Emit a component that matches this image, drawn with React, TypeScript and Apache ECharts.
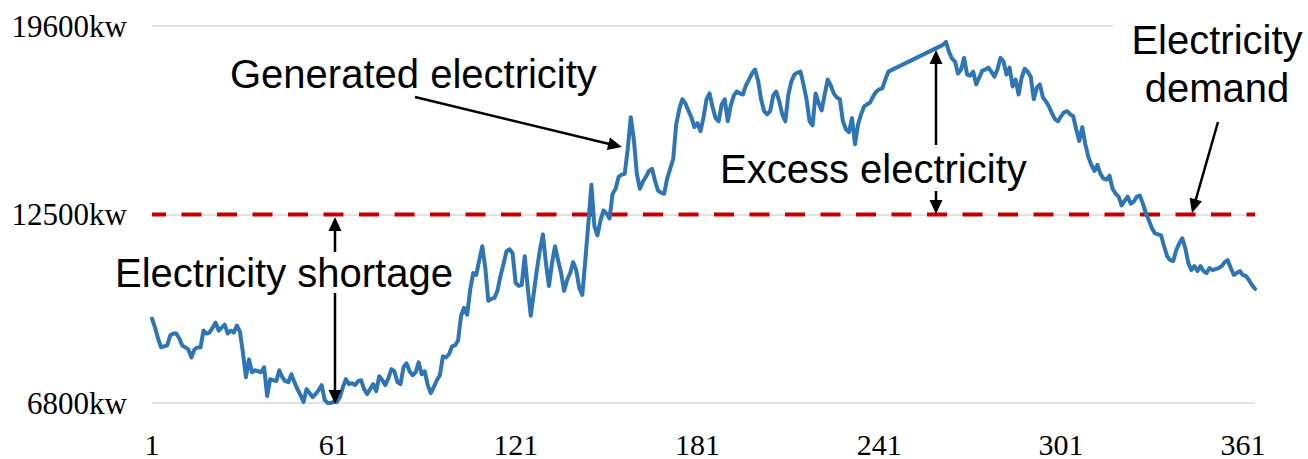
import React, { useEffect, useRef } from "react";
import * as echarts from "echarts";

// Day index (category axis)
const DAYS: string[] = Array.from({ length: 365 }, (_, i) => String(i + 1));

// Y tick values (equally spaced on the chart) and their labels
const Y_TICK_VALUES = [6800, 12500, 19600];
const Y_TICK_LABELS = ["6800kw", "12500kw", "19600kw"];

// Electricity demand (kw)
const DEMAND_KW = 12500;

// Generated electricity per day (kw); null = missing days (connected by a straight line)
const GENERATED_KW: (number | null)[] = [
  9350, 9080, 8750, 8480, 8510, 8540, 8840, 8900, 8900, 8750,
  8540, 8480, 8420, 8180, 8420, 8480, 8480, 8990, 8900, 8930,
  9080, 9230, 8990, 9080, 9170, 8900, 8990, 8930, 9140, 8960,
  8330, 7580, 8120, 7730, 7790, 7760, 7730, 7880, 7010, 7520,
  7490, 7460, 7790, 7580, 7460, 7430, 7670, 7430, 7220, 7040,
  6830, 7220, 7100, 6980, 7070, 7190, 7340, 6890, 6800, 6800,
  6830, 6830, 6980, 7280, 7520, 7370, 7400, 7340, 7460, 7490,
  7220, 7070, 7220, 7370, 7160, 7610, 7490, 7340, 7550, 7820,
  7760, 7430, 7370, 7880, 8000, 7760, 7640, 7730, 8030, 7670,
  7760, 7340, 7100, 7280, 7490, 7640, 8210, 8180, 8270, 8510,
  8540, 8690, 9440, 9680, 9470, 10220, 10730, 10670, 11120, 11540,
  10880, 9890, 9950, 9980, 10190, 10640, 11000, 11390, 11450, 11330,
  10430, 10340, 10370, 11240, 10280, 9440, 10130, 10820, 11420, 11900,
  11030, 10340, 11030, 11540, 11120, 10730, 10190, 10520, 10730, 11060,
  10820, 10280, 10070, 11120, 12230, 13620, 12140, 11870, 12320, 12650,
  12540, 12380, 13280, 13470, 13920, 14000, 14030, 14970, 16160, 15340,
  14030, 13470, 13730, 13920, 14140, 14220, 13770, 13400, 13320, 13280,
  13850, 14220, 14590, 15900, 16460, 16840, 16690, 16420, 16160, 15790,
  15940, 15640, 16160, 16840, 17060, 16540, 16130, 16010, 16650, 16840,
  16010, 16610, 16980, 17130, 17060, 17020, 17360, 17580, 17810, 17960,
  17550, 16840, 16390, 16270, 16390, 16980, 17130, 16760, 16270, 16010,
  17020, 17510, 17770, 17840, 17880, 17400, 16840, 16010, 15860, 17060,
  16690, 16420, 17020, 17580, 17360, 17060, 16910, 16840, 16010, 15710,
  15600, 16130, 15150, 15900, 16270, 16570, 16650, 16720, 16950, 17130,
  17210, 17250, 17580, 17880, null, null, null, null, null, null,
  null, null, null, null, null, null, null, null, null, null,
  null, 18890, 19000, 18630, 18370, 18260, 17810, 17960, 18400, 17770,
  17730, 17880, 17400, 17660, 17920, 17960, 18030, 17880, 17690, 17960,
  18400, 18260, 17770, 18030, 17320, 17580, 17020, 17660, 17990, 17880,
  17690, 16840, 17280, 17400, 16910, 16760, 16570, 16310, 16090, 16010,
  16200, 16350, 16390, 16270, 16200, 15710, 15270, 15790, 15150, 14670,
  14370, 14140, 14370, 14030, 13850, 13810, 13960, 13470, 13280, 13170,
  12840, 13020, 13170, 12910, 12990, 13170, 13210, 12910, 12540, 12320,
  12080, 11930, 11900, 11870, 11540, 11240, 11120, 11090, 11420, 11630,
  11780, 11480, 11030, 10820, 10940, 10790, 10940, 10790, 10730, 10880,
  10820, 10850, 10880, 10940, 11060, 11120, 10880, 10670, 10730, 10790,
  10670, 10640, 10520, 10370, 10250,
];

// Map a kw value onto the axis, whose ticks are equally spaced
function toAxis(v: number | null): number | null {
  if (v == null) return null;
  const t = Y_TICK_VALUES;
  for (let i = 0; i < t.length - 1; i++) {
    if (v <= t[i + 1] || i === t.length - 2) {
      return i + (v - t[i]) / (t[i + 1] - t[i]);
    }
  }
  return null;
}

const SANS = "'Liberation Sans', Arial, sans-serif";
const SERIF = "'Liberation Serif', 'Times New Roman', serif";

function arrow(x1: number, y1: number, x2: number, y2: number): any[] {
  const len = 14;
  const half = 6.5;
  const dx = x2 - x1;
  const dy = y2 - y1;
  const d = Math.sqrt(dx * dx + dy * dy);
  const ux = dx / d;
  const uy = dy / d;
  const bx = x2 - ux * len;
  const by = y2 - uy * len;
  const px = -uy;
  const py = ux;
  return [
    {
      type: "line",
      shape: { x1, y1, x2: bx + ux * 2, y2: by + uy * 2 },
      style: { stroke: "#000", lineWidth: 2.5 },
      z: 100,
    },
    {
      type: "polygon",
      shape: {
        points: [
          [x2, y2],
          [bx + px * half, by + py * half],
          [bx - px * half, by - py * half],
        ],
      },
      style: { fill: "#000" },
      z: 100,
    },
  ];
}

export default function App() {
  const ref = useRef<HTMLDivElement>(null);

  useEffect(() => {
    if (!ref.current) return;
    const chart = echarts.init(ref.current, null, { renderer: "svg" });

    const option: any = {
      animation: false,
      backgroundColor: "#ffffff",
      grid: { left: 152, right: 53, top: 26, bottom: 53, containLabel: false },
      xAxis: {
        type: "category",
        data: DAYS,
        boundaryGap: false,
        axisLine: { show: false },
        axisTick: { show: false },
        axisLabel: {
          interval: 59,
          fontFamily: SERIF,
          fontSize: 30,
          lineHeight: 26,
          color: "#000",
          margin: 28,
        },
        splitLine: { show: false },
      },
      yAxis: {
        type: "value",
        min: 0,
        max: Y_TICK_VALUES.length - 1,
        interval: 1,
        axisLine: { show: false },
        axisTick: { show: false },
        axisLabel: {
          fontFamily: SERIF,
          fontSize: 31,
          color: "#000",
          margin: 25,
          formatter: (val: number) => Y_TICK_LABELS[Math.round(val)] ?? "",
        },
        splitLine: { show: true, lineStyle: { color: "#D9D9D9", width: 1.5 } },
      },
      series: [
        {
          name: "Electricity demand",
          type: "line",
          data: DAYS.map(() => toAxis(DEMAND_KW)),
          symbol: "none",
          clip: false,
          lineStyle: { color: "#C00000", width: 4, type: [20, 15.5], dashOffset: 6 },
          z: 3,
        },
        {
          name: "Generated electricity",
          type: "line",
          data: GENERATED_KW.map(toAxis),
          symbol: "none",
          connectNulls: true,
          clip: false,
          lineStyle: { color: "#2E75B6", width: 4, join: "round", cap: "round" },
          z: 4,
        },
      ],
      graphic: [
        {
          type: "rect",
          shape: { x: 1113, y: 0, width: 195, height: 112 },
          style: { fill: "#ffffff" },
          z: 90,
        },
        {
          type: "text",
          x: 230,
          y: 74,
          style: {
            text: "Generated electricity",
            font: `40px ${SANS}`,
            fill: "#000",
            textAlign: "left",
            textVerticalAlign: "middle",
          },
          z: 100,
        },
        {
          type: "text",
          x: 720,
          y: 169,
          style: {
            text: "Excess electricity",
            font: `40px ${SANS}`,
            fill: "#000",
            textAlign: "left",
            textVerticalAlign: "middle",
          },
          z: 100,
        },
        {
          type: "text",
          x: 115,
          y: 273,
          style: {
            text: "Electricity shortage",
            font: `40px ${SANS}`,
            fill: "#000",
            textAlign: "left",
            textVerticalAlign: "middle",
          },
          z: 100,
        },
        {
          type: "text",
          x: 1217,
          y: 40,
          style: {
            text: "Electricity",
            font: `40px ${SANS}`,
            fill: "#000",
            textAlign: "center",
            textVerticalAlign: "middle",
          },
          z: 100,
        },
        {
          type: "text",
          x: 1217,
          y: 88,
          style: {
            text: "demand",
            font: `40px ${SANS}`,
            fill: "#000",
            textAlign: "center",
            textVerticalAlign: "middle",
          },
          z: 100,
        },
        ...arrow(415, 97, 622, 147),
        ...arrow(936, 145, 936, 50),
        ...arrow(936, 191, 936, 214),
        ...arrow(335, 252, 335, 217),
        ...arrow(335, 293, 335, 404),
        ...arrow(1218, 122, 1192, 213),
      ],
    };

    chart.setOption(option);
    return () => chart.dispose();
  }, []);

  return (
    <div
      ref={ref}
      style={{ position: "fixed", left: 0, top: 0, width: 1308, height: 459, background: "#fff" }}
    />
  );
}
